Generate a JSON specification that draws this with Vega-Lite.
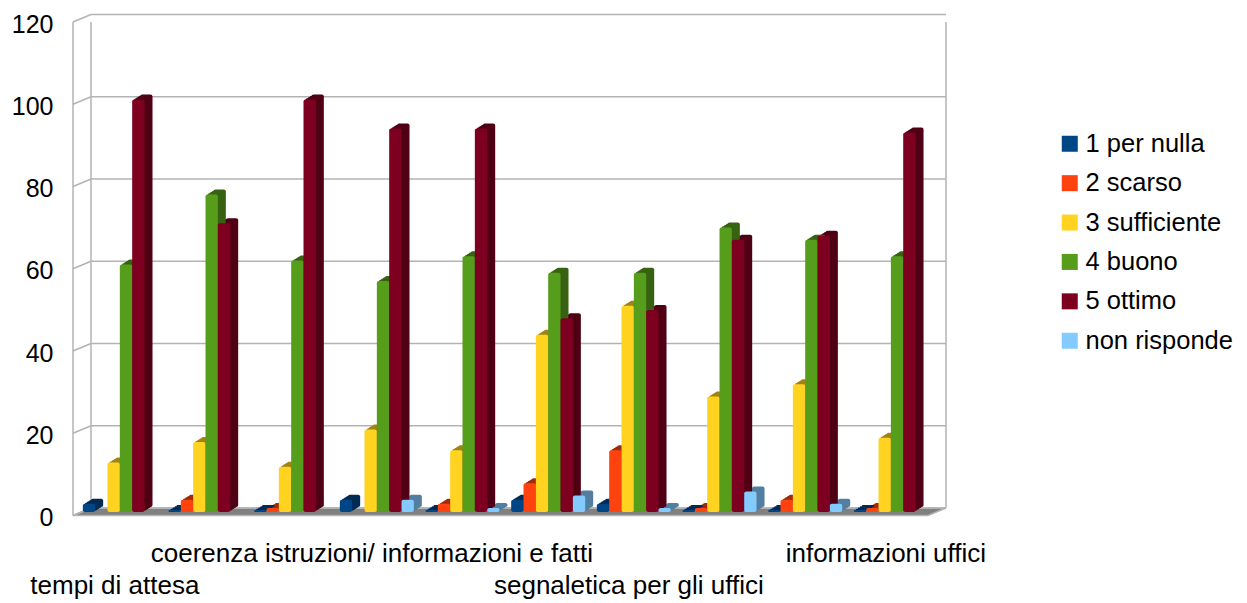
{"$schema":"https://vega.github.io/schema/vega-lite/v6.json","autosize":{"type":"none"},"padding":{"left":73,"top":15,"right":300,"bottom":87},"width":874,"height":501,"background":"white","config":{"view":{"stroke":null},"font":"Liberation Sans"},"datasets":{"ticks":[{"tick":0},{"tick":20},{"tick":40},{"tick":60},{"tick":80},{"tick":100},{"tick":120}],"one":[{"floor":0}],"bars":[
{"category":"tempi di attesa","series":"1 per nulla","value":2},{"category":"tempi di attesa","series":"3 sufficiente","value":12},{"category":"tempi di attesa","series":"4 buono","value":60},{"category":"tempi di attesa","series":"5 ottimo","value":100},
{"category":"voce 2","series":"1 per nulla","value":0.5},{"category":"voce 2","series":"2 scarso","value":3},{"category":"voce 2","series":"3 sufficiente","value":17},{"category":"voce 2","series":"4 buono","value":77},{"category":"voce 2","series":"5 ottimo","value":70},
{"category":"voce 3","series":"1 per nulla","value":0.5},{"category":"voce 3","series":"2 scarso","value":1},{"category":"voce 3","series":"3 sufficiente","value":11},{"category":"voce 3","series":"4 buono","value":61},{"category":"voce 3","series":"5 ottimo","value":100},
{"category":"coerenza istruzioni/ informazioni e fatti","series":"1 per nulla","value":3},{"category":"coerenza istruzioni/ informazioni e fatti","series":"3 sufficiente","value":20},{"category":"coerenza istruzioni/ informazioni e fatti","series":"4 buono","value":56},{"category":"coerenza istruzioni/ informazioni e fatti","series":"5 ottimo","value":93},{"category":"coerenza istruzioni/ informazioni e fatti","series":"non risponde","value":3},
{"category":"voce 5","series":"1 per nulla","value":0.5},{"category":"voce 5","series":"2 scarso","value":2},{"category":"voce 5","series":"3 sufficiente","value":15},{"category":"voce 5","series":"4 buono","value":62},{"category":"voce 5","series":"5 ottimo","value":93},{"category":"voce 5","series":"non risponde","value":1},
{"category":"voce 6","series":"1 per nulla","value":3},{"category":"voce 6","series":"2 scarso","value":7},{"category":"voce 6","series":"3 sufficiente","value":43},{"category":"voce 6","series":"4 buono","value":58},{"category":"voce 6","series":"5 ottimo","value":47},{"category":"voce 6","series":"non risponde","value":4},
{"category":"segnaletica per gli uffici","series":"1 per nulla","value":2},{"category":"segnaletica per gli uffici","series":"2 scarso","value":15},{"category":"segnaletica per gli uffici","series":"3 sufficiente","value":50},{"category":"segnaletica per gli uffici","series":"4 buono","value":58},{"category":"segnaletica per gli uffici","series":"5 ottimo","value":49},{"category":"segnaletica per gli uffici","series":"non risponde","value":1},
{"category":"voce 8","series":"1 per nulla","value":0.5},{"category":"voce 8","series":"2 scarso","value":1},{"category":"voce 8","series":"3 sufficiente","value":28},{"category":"voce 8","series":"4 buono","value":69},{"category":"voce 8","series":"5 ottimo","value":66},{"category":"voce 8","series":"non risponde","value":5},
{"category":"voce 9","series":"1 per nulla","value":0.5},{"category":"voce 9","series":"2 scarso","value":3},{"category":"voce 9","series":"3 sufficiente","value":31},{"category":"voce 9","series":"4 buono","value":66},{"category":"voce 9","series":"5 ottimo","value":67},{"category":"voce 9","series":"non risponde","value":2},
{"category":"informazioni uffici","series":"1 per nulla","value":0.5},{"category":"informazioni uffici","series":"2 scarso","value":1},{"category":"informazioni uffici","series":"3 sufficiente","value":18},{"category":"informazioni uffici","series":"4 buono","value":62},{"category":"informazioni uffici","series":"5 ottimo","value":92}
]},
"resolve":{"scale":{"x":"independent","y":"independent","color":"independent"}},
"layer":[
{"data":{"name":"one"},"mark":{"type":"point","shape":"M0,0L855,0L873,-7.5L18,-7.5Z","size":4,"filled":true,"fill":"#808080","stroke":"#b3b3b3","strokeWidth":1.5,"opacity":1},"encoding":{"x":{"datum":0,"type":"quantitative","scale":{"domain":[0,874],"range":[0,874]},"axis":null},"y":{"field":"floor","type":"quantitative","scale":{"domain":[0,120],"range":[500.5,7]},"axis":null}}},
{"data":{"name":"ticks"},"mark":{"type":"rule","stroke":"#b3b3b3","strokeWidth":1.5,"yOffset":-7.5},"encoding":{"x":{"datum":18,"type":"quantitative","scale":{"domain":[0,874],"range":[0,874]},"axis":null},"x2":{"datum":873},"y":{"field":"tick","type":"quantitative","scale":{"domain":[0,120],"range":[500.5,7]},"axis":null}}},
{"data":{"name":"ticks"},"mark":{"type":"point","shape":"M0,0L18,-7.5","size":4,"filled":false,"stroke":"#b3b3b3","strokeWidth":1.5,"opacity":1},"encoding":{"x":{"datum":0,"type":"quantitative","scale":{"domain":[0,874],"range":[0,874]},"axis":null},"y":{"field":"tick","type":"quantitative","scale":{"domain":[0,120],"range":[500.5,7]},"axis":{"title":null,"grid":false,"domain":false,"ticks":false,"values":[0,20,40,60,80,100,120],"labelFontSize":25,"labelPadding":20,"labelOffset":2,"labelColor":"#000000","labelFont":"Liberation Sans"}}}},
{"data":{"name":"one"},"mark":{"type":"rule","stroke":"#b3b3b3","strokeWidth":1.5,"yOffset":-7.5},"encoding":{"x":{"datum":18,"type":"quantitative","scale":{"domain":[0,874],"range":[0,874]},"axis":null},"y":{"datum":0,"type":"quantitative","scale":{"domain":[0,120],"range":[500.5,7]},"axis":null},"y2":{"datum":120}}},
{"data":{"name":"one"},"mark":{"type":"rule","stroke":"#b3b3b3","strokeWidth":1.5,"yOffset":-7.5},"encoding":{"x":{"datum":873,"type":"quantitative","scale":{"domain":[0,874],"range":[0,874]},"axis":null},"y":{"datum":0,"type":"quantitative","scale":{"domain":[0,120],"range":[500.5,7]},"axis":null},"y2":{"datum":120}}},
{"data":{"name":"one"},"mark":{"type":"rule","stroke":"#b3b3b3","strokeWidth":1.5},"encoding":{"x":{"datum":0,"type":"quantitative","scale":{"domain":[0,874],"range":[0,874]},"axis":null},"y":{"datum":0,"type":"quantitative","scale":{"domain":[0,120],"range":[500.5,7]},"axis":null},"y2":{"datum":120}}},
{"data":{"name":"bars"},"mark":{"type":"bar","cornerRadius":2},"encoding":{"x":{"field":"category","type":"nominal","sort":null,"scale":{"domain":["tempi di attesa","voce 2","voce 3","coerenza istruzioni/ informazioni e fatti","voce 5","voce 6","segnaletica per gli uffici","voce 8","voce 9","informazioni uffici"],"range":[6,862.7],"paddingInner":0.136,"paddingOuter":0.068},"axis":null},"xOffset":{"field":"series","type":"nominal","scale":{"domain":["1 per nulla","2 scarso","3 sufficiente","4 buono","5 ottimo","non risponde"],"paddingInner":0,"paddingOuter":0}},"y":{"field":"value","type":"quantitative","stack":null,"scale":{"domain":[0,120],"range":[495.75,0.75]},"axis":null},"color":{"field":"series","type":"nominal","legend":null,"scale":{"domain":["1 per nulla","2 scarso","3 sufficiente","4 buono","5 ottimo","non risponde"],"range":["#002b54","#a02a09","#a08414","#376211","#4f0015","#527ea0"]}}}},
{"data":{"name":"bars"},"mark":{"type":"bar","cornerRadius":2},"encoding":{"x":{"field":"category","type":"nominal","sort":null,"scale":{"domain":["tempi di attesa","voce 2","voce 3","coerenza istruzioni/ informazioni e fatti","voce 5","voce 6","segnaletica per gli uffici","voce 8","voce 9","informazioni uffici"],"range":[8,864.7],"paddingInner":0.136,"paddingOuter":0.068},"axis":null},"xOffset":{"field":"series","type":"nominal","scale":{"domain":["1 per nulla","2 scarso","3 sufficiente","4 buono","5 ottimo","non risponde"],"paddingInner":0,"paddingOuter":0}},"y":{"field":"value","type":"quantitative","stack":null,"scale":{"domain":[0,120],"range":[494.5,-0.5]},"axis":null},"color":{"field":"series","type":"nominal","legend":null,"scale":{"domain":["1 per nulla","2 scarso","3 sufficiente","4 buono","5 ottimo","non risponde"],"range":["#002b54","#a02a09","#a08414","#376211","#4f0015","#527ea0"]}}}},
{"data":{"name":"bars"},"mark":{"type":"bar","cornerRadius":2},"encoding":{"x":{"field":"category","type":"nominal","sort":null,"scale":{"domain":["tempi di attesa","voce 2","voce 3","coerenza istruzioni/ informazioni e fatti","voce 5","voce 6","segnaletica per gli uffici","voce 8","voce 9","informazioni uffici"],"range":[10,866.7],"paddingInner":0.136,"paddingOuter":0.068},"axis":null},"xOffset":{"field":"series","type":"nominal","scale":{"domain":["1 per nulla","2 scarso","3 sufficiente","4 buono","5 ottimo","non risponde"],"paddingInner":0,"paddingOuter":0}},"y":{"field":"value","type":"quantitative","stack":null,"scale":{"domain":[0,120],"range":[493.25,-1.75]},"axis":null},"color":{"field":"series","type":"nominal","legend":null,"scale":{"domain":["1 per nulla","2 scarso","3 sufficiente","4 buono","5 ottimo","non risponde"],"range":["#002b54","#a02a09","#a08414","#376211","#4f0015","#527ea0"]}}}},
{"data":{"name":"bars"},"mark":{"type":"bar","cornerRadius":2},"encoding":{"x":{"field":"category","type":"nominal","sort":null,"scale":{"domain":["tempi di attesa","voce 2","voce 3","coerenza istruzioni/ informazioni e fatti","voce 5","voce 6","segnaletica per gli uffici","voce 8","voce 9","informazioni uffici"],"range":[12,868.7],"paddingInner":0.136,"paddingOuter":0.068},"axis":null},"xOffset":{"field":"series","type":"nominal","scale":{"domain":["1 per nulla","2 scarso","3 sufficiente","4 buono","5 ottimo","non risponde"],"paddingInner":0,"paddingOuter":0}},"y":{"field":"value","type":"quantitative","stack":null,"scale":{"domain":[0,120],"range":[492,-3]},"axis":null},"color":{"field":"series","type":"nominal","legend":null,"scale":{"domain":["1 per nulla","2 scarso","3 sufficiente","4 buono","5 ottimo","non risponde"],"range":["#002b54","#a02a09","#a08414","#376211","#4f0015","#527ea0"]}}}},
{"data":{"name":"bars"},"mark":{"type":"bar","cornerRadius":2},"encoding":{"x":{"field":"category","type":"nominal","sort":null,"scale":{"domain":["tempi di attesa","voce 2","voce 3","coerenza istruzioni/ informazioni e fatti","voce 5","voce 6","segnaletica per gli uffici","voce 8","voce 9","informazioni uffici"],"range":[4,860.7],"paddingInner":0.136,"paddingOuter":0.068},"axis":{"title":null,"values":["tempi di attesa","coerenza istruzioni/ informazioni e fatti","segnaletica per gli uffici","informazioni uffici"],"domain":false,"ticks":false,"grid":false,"labelAngle":0,"labelFontSize":26,"labelLimit":700,"labelPadding":24,"labelOffset":-5,"labelOverlap":false,"labelFlush":false,"labelColor":"#000000","labelFont":"Liberation Sans","labelBaseline":"top","labelLineHeight":32,"labelExpr":"datum.label=='tempi di attesa'||datum.label=='segnaletica per gli uffici'?['',datum.label]:datum.label"}},"xOffset":{"field":"series","type":"nominal","scale":{"domain":["1 per nulla","2 scarso","3 sufficiente","4 buono","5 ottimo","non risponde"],"paddingInner":0,"paddingOuter":0}},"y":{"field":"value","type":"quantitative","stack":null,"scale":{"domain":[0,120],"range":[497,2]},"axis":null},"color":{"field":"series","type":"nominal","scale":{"domain":["1 per nulla","2 scarso","3 sufficiente","4 buono","5 ottimo","non risponde"],"range":["#004586","#ff420e","#ffd320","#579d1c","#7e0021","#83caff"]},"legend":{"title":null,"orient":"none","legendX":984,"legendY":116,"symbolType":"square","symbolSize":256,"symbolStrokeWidth":0,"symbolOpacity":1,"labelFontSize":25.5,"labelFont":"Liberation Sans","labelColor":"#000000","labelLimit":300,"rowPadding":12.4,"labelOffset":3}}}}
]}
